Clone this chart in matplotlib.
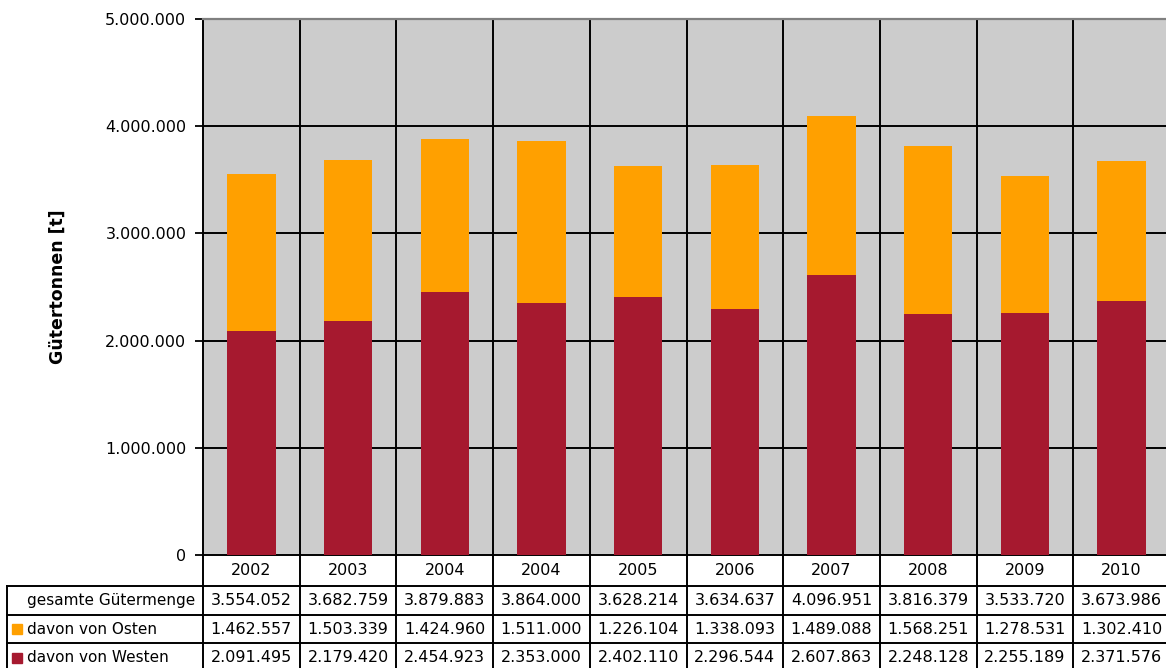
import matplotlib
matplotlib.use("Agg")
import matplotlib.pyplot as plt
from matplotlib.transforms import blended_transform_factory
from matplotlib.patches import Rectangle

years = ["2002", "2003", "2004", "2004", "2005", "2006", "2007", "2008", "2009", "2010"]
west = [2091495, 2179420, 2454923, 2353000, 2402110, 2296544, 2607863, 2248128, 2255189, 2371576]
east = [1462557, 1503339, 1424960, 1511000, 1226104, 1338093, 1489088, 1568251, 1278531, 1302410]
total = [w + e for w, e in zip(west, east)]

row_labels = ["gesamte Gütermenge", "davon von Osten", "davon von Westen"]
yticks = [0, 1000000, 2000000, 3000000, 4000000, 5000000]

RED = "#A6192F"
ORANGE = "#FFA000"
BG = "#CCCCCC"
FS = 11.5
FS_LAB = 11


def fmt(v):
    return f"{v:,}".replace(",", ".")


W, H = 1166, 668
fig = plt.figure(figsize=(W / 100, H / 100), dpi=100)
plt.rcParams["font.family"] = ["DejaVu Sans"]

# pixel overlay for the data table below the plot
over = fig.add_axes([0, 0, 1, 1])
over.set_xlim(0, W)
over.set_ylim(H, 0)
over.axis("off")

left_px, right_px, top_px, bot_px = 203, 1170, 19, 555
ax = fig.add_axes([left_px / W, (H - bot_px) / H,
                   (right_px - left_px) / W, (bot_px - top_px) / H])
ax.set_facecolor(BG)
x = list(range(len(years)))
ax.bar(x, west, width=0.5, color=RED, zorder=3)
ax.bar(x, east, bottom=west, width=0.5, color=ORANGE, zorder=3)
ax.set_xlim(-0.5, len(years) - 0.5)
ax.set_ylim(0, 5000000)
ax.set_yticks(yticks)
ax.set_yticklabels([fmt(v) for v in yticks], fontsize=FS)
ax.tick_params(axis="y", length=6, width=1.3, pad=6, direction="out")
ax.tick_params(axis="x", length=0, labelbottom=False)
for v in yticks[1:-1]:
    ax.axhline(v, color="black", lw=1.4, zorder=1)
for i in range(1, len(years)):
    ax.axvline(i - 0.5, color="black", lw=1.4, zorder=1)
ax.spines["top"].set_color("#808080")
ax.spines["top"].set_linewidth(1.6)
ax.spines["right"].set_visible(False)
ax.spines["left"].set_linewidth(1.4)
ax.spines["bottom"].set_linewidth(1.4)
ax.set_ylabel("Gütertonnen [t]", fontsize=12.5, fontweight="bold")
ax.yaxis.set_label_coords((67 - left_px) / (right_px - left_px), 0.5)
fig.canvas.draw()

tr = blended_transform_factory(ax.transData, over.transData)
year_row = (555, 586)
rows = [(586, 615), (615, 643), (643, 672)]
table_left = 7
lw = 1.4

# column boundaries through the table
for i in range(len(years) + 1):
    over.plot([i - 0.5, i - 0.5], [555, H + 5], color="black", lw=lw,
              transform=tr, clip_on=False)
# horizontal rules
for y in [586, 615, 643]:
    over.plot([table_left, W + 10], [y, y], color="black", lw=lw, clip_on=False)
over.plot([table_left, table_left], [586, H + 5], color="black", lw=lw, clip_on=False)

for i, yr in enumerate(years):
    over.text(i, sum(year_row) / 2, yr, transform=tr, ha="center", va="center", fontsize=FS)
for r, vals in zip(rows, [total, east, west]):
    for i, v in enumerate(vals):
        over.text(i, sum(r) / 2, fmt(v), transform=tr, ha="center", va="center", fontsize=FS)

for k, (r, lab) in enumerate(zip(rows, row_labels)):
    over.text(27, sum(r) / 2, lab, ha="left", va="center", fontsize=FS_LAB)
    if k > 0:
        over.add_patch(Rectangle((12, sum(r) / 2 - 5), 10, 10,
                                 color=[None, ORANGE, RED][k], clip_on=False))

fig.savefig("out.png", dpi=100)
